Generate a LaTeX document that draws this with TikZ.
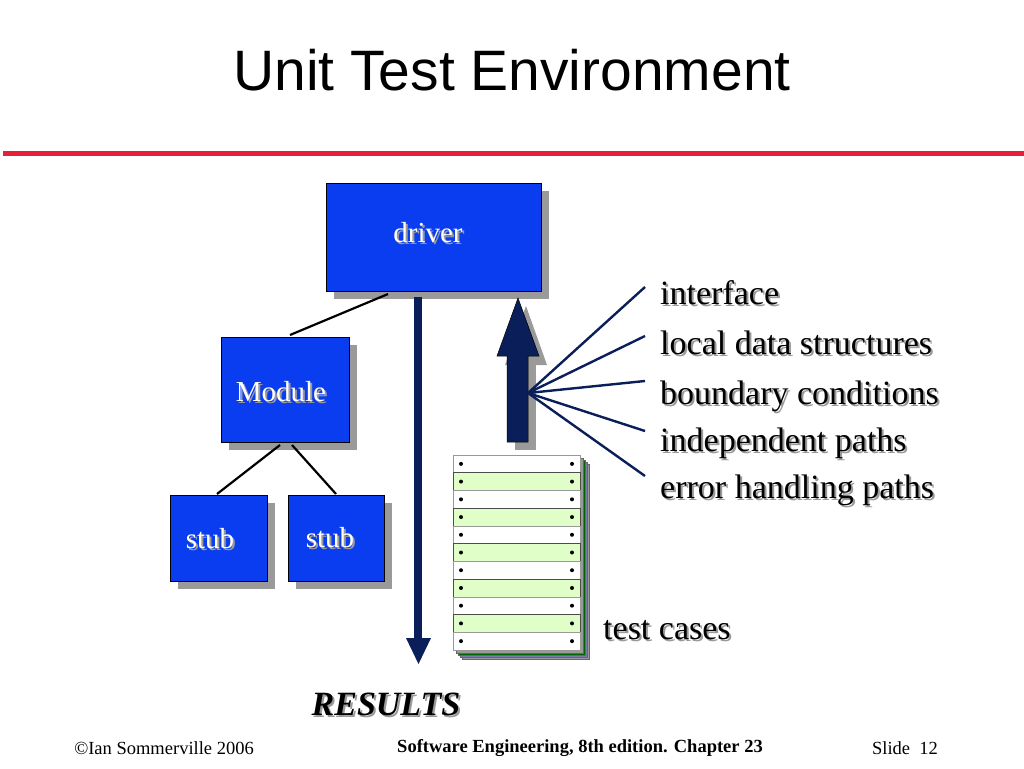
\documentclass[tikz,border=0pt]{standalone}
\usepackage{fontspec}
\setmainfont{Liberation Serif}
\newfontfamily\titlefont{Liberation Sans}
\definecolor{boxblue}{HTML}{0A3CF0}
\definecolor{navy}{HTML}{0A1E5A}
\definecolor{redline}{HTML}{E6203C}
\definecolor{sgray}{HTML}{9A9A9A}
\definecolor{paleg}{HTML}{E0FFC8}
\newcommand{\shnode}[5]{%
  \node[text=sgray,anchor=#3,font=#4,inner sep=0] at ($(#1,#2)+(2,2)$) {#5};
  \node[anchor=#3,font=#4,inner sep=0] at (#1,#2) {#5};}
\usetikzlibrary{calc}
\tikzset{
  mod/.style={draw=black,fill=boxblue,line width=0.8pt},
  shad/.style={fill=sgray},
  conn/.style={line width=2.2pt,black},
  fan/.style={line width=2.4pt,navy},
}
\begin{document}
\begin{tikzpicture}[x=1pt,y=-1pt]
\useasboundingbox[fill=white] (0,0) rectangle (1024,768);
\node[font=\titlefont\fontsize{57}{62}\selectfont] (title) at (512,70) {Unit Test Environment};
\fill[redline] (3,151) rectangle (1024,156);
% shadows
\fill[shad] (334,191) rectangle (549,299);
\fill[shad] (229,345) rectangle (357,450);
\fill[shad] (178,503) rectangle (275,589);
\fill[shad] (296,503) rectangle (392,589);
% boxes
\node[mod,minimum width=215,minimum height=108,inner sep=0] (driver) at (433.5,237) {};
\node[mod,minimum width=128,minimum height=105,inner sep=0] (module) at (285,389.5) {};
\node[mod,minimum width=97,minimum height=86,inner sep=0] (stub1) at (218.5,538) {};
\node[mod,minimum width=96,minimum height=86,inner sep=0] (stub2) at (336,538) {};
\shnode{428}{233}{center}{\fontsize{29}{32}\selectfont\color{white}}{driver}
\shnode{281}{392}{center}{\fontsize{29}{32}\selectfont\color{white}}{Module}
\shnode{210}{539}{center}{\fontsize{29}{32}\selectfont\color{white}}{stub}
\shnode{330}{538}{center}{\fontsize{29}{32}\selectfont\color{white}}{stub}
\coordinate (d1) at (388,294); \coordinate (m1) at (290,335);
\coordinate (m2) at (280,445); \coordinate (m3) at (292,445);
\coordinate (s1) at (217,494); \coordinate (s2) at (336,494);
\draw[conn] (d1) -- (m1);
\draw[conn] (m2) -- (s1);
\draw[conn] (m3) -- (s2);
% down arrow
\fill[navy] (414,297) rectangle (422,640);
\fill[navy] (406,638) -- (431,638) -- (418.5,664) -- cycle;
% up arrow shadow + arrow
\fill[sgray] (515,365) rectangle (536,450);
\fill[sgray] (505,365) -- (547,365) -- (526,306) -- cycle;
\fill[navy,draw=black,line width=0.5pt] (507,356) -- (497,356) -- (518,298) -- (539,356) -- (528,356) -- (528,442) -- (507,442) -- cycle;
% fan
\coordinate (f0) at (528,393);
\coordinate (e1) at (645,287); \coordinate (e2) at (645,336);
\coordinate (e3) at (645,381); \coordinate (e4) at (645,431);
\coordinate (e5) at (645,476);
\foreach \e in {e1,e2,e3,e4,e5} \draw[fan] (f0) -- (\e);
% labels
\foreach \t/\y in {interface/293,local data structures/343,boundary conditions/396,independent paths/443,error handling paths/490}
  {\shnode{660}{\y}{west}{\fontsize{34}{38}\selectfont}{\t}}
% test case stack
\foreach \o/\c in {9/sgray,7/sgray!80!blue,5/green!40!black,3/sgray}
  \draw[fill=\c,draw=black!60,line width=0.4pt] (453+\o,455+\o) rectangle (580+\o,650+\o);
\foreach \i in {0,...,10}{
  \pgfmathsetmacro{\yy}{455+\i*195/11}
  \pgfmathsetmacro{\yb}{455+(\i+1)*195/11}
  \pgfmathparse{mod(\i,2)==1?1:0}
  \ifnum\pgfmathresult=1
    \draw[fill=paleg,draw=black!70,line width=0.5pt] (453,\yy) rectangle (580,\yb);
  \else
    \draw[fill=white,draw=black!40,line width=0.5pt] (453,\yy) rectangle (580,\yb);
  \fi
  \fill (461,{(\yy+\yb)/2}) circle (2);
  \fill (572,{(\yy+\yb)/2}) circle (2);
}
\shnode{603}{630}{west}{\fontsize{34}{38}\selectfont}{test cases}
\shnode{386}{704}{center}{\fontsize{34}{38}\selectfont\bfseries\itshape}{RESULTS}
% footer
\node[font=\fontsize{18.5}{20}\selectfont] (f1) at (164,748) {©Ian Sommerville 2006};
\node[font=\fontsize{18.5}{20}\selectfont\bfseries] (f2) at (580,748) {Software Engineering, 8th edition. Chapter 23};
\node[font=\fontsize{18.5}{20}\selectfont] (f3) at (905,748) {Slide~~12};
\end{tikzpicture}
\end{document}
